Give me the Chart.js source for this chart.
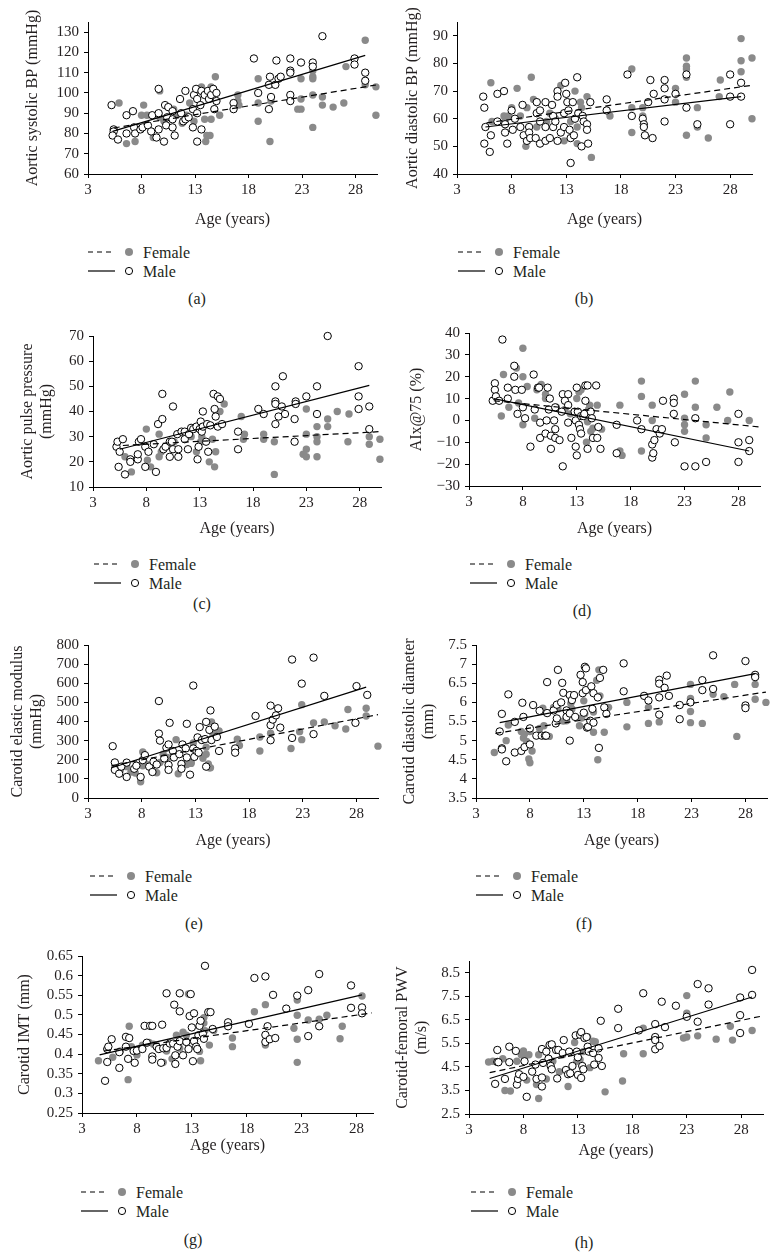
<!DOCTYPE html>
<html>
<head>
<meta charset="utf-8">
<title>Arterial measures by age and sex</title>
<script src="https://cdn.jsdelivr.net/npm/chart.js@4.4.3/dist/chart.umd.js"></script>
<style>
    html, body {
        margin: 0;
        padding: 0;
        background: #fff;
        width: 781px;
        height: 1257px;
        overflow: hidden;
        position: relative;
        font-family: "Liberation Serif", "Times New Roman", serif;
        color: #231f20;
    }
    canvas { position: absolute; }
    .legend {
        position: absolute;
        font-size: 16px;
        line-height: 19px;
        white-space: nowrap;
    }
    .legend div { height: 19px; display: flex; align-items: center; }
    .legend svg { margin-right: 3px; }
    .cap {
        position: absolute;
        font-size: 16px;
        transform: translate(-50%, -50%);
    }
</style>
</head>
<body>
<script>
    // shared x axis
    const ageTicks = [3, 8, 13, 18, 23, 28];

    // (a) aortic systolic BP
    const sbpTicks = [60, 70, 80, 90, 100, 110, 120, 130];
    const sbpFemale = [[5.9,95],[6.6,75],[7.4,76],[8.2,94],[8,89],[8.5,89],[9.1,78],[9.7,101],[9.7,88],[10.1,86],[11,92],[11.3,89],[11.8,85],[12.2,89],[12.5,95],[12.9,86],[13.6,103],[13.9,87],[14,76],[14.1,79],[14.4,79],[14.5,103],[14.5,87],[14.9,108],[15.3,89],[17,99],[17.1,94],[17,96],[18.9,107],[18.9,95],[18.9,86],[20,76],[20.1,96],[22.6,92],[22.9,107],[22.9,97],[22.9,92],[24,111],[24,108],[24,107],[24,99],[24,83],[24.9,98],[24.9,94],[25.9,93],[26.9,95],[27.1,113],[28.9,126],[28.9,104],[29.9,103],[29.9,89]];
    const sbpMale = [[5.2,94],[5.4,82],[5.4,81],[5.3,79],[5.8,77],[6.6,89],[6.6,80],[7.2,91],[7.3,83],[7.4,80],[7.9,82],[8.1,83],[8.6,84],[9,89],[8.9,81],[9.4,78],[9.6,102],[9.6,90],[9.6,82],[10.1,76],[10.2,94],[10.5,93],[10.3,84],[10.4,88],[10.9,87],[10.9,91],[10.9,83],[11.1,79],[11.6,97],[11.7,90],[11.9,86],[12.1,101],[12.1,87],[12.4,88],[12.8,83],[12.8,92],[12.9,99],[13.1,102],[13.2,97],[13.2,90],[13.2,76],[13.5,94],[13.6,101],[13.6,82],[13.9,99],[14.2,101],[14.3,97],[14.5,99],[14.8,92],[14.7,102],[15,100],[15,96],[16.6,95],[16.6,92],[18.5,117],[18.9,100],[19.9,104],[20,108],[19.9,92],[20.1,98],[20.5,104],[20.6,116],[20.8,107],[21,108],[21.9,117],[21.9,111],[21.9,110],[21.9,99],[21.9,96],[22.9,115],[24,115],[24,113],[24.9,128],[27.9,117],[27.9,114],[28.9,110],[28.9,106]];
    const sbpFemaleFit = [[5.4,82.7],[29.9,103.9]];
    const sbpMaleFit = [[5.3,81],[28.9,118.5]];

    // (b) aortic diastolic BP
    const dbpTicks = [40, 50, 60, 70, 80, 90];
    const dbpFemale = [[6.1,73],[6.2,59],[7.3,61],[7.4,59],[7.7,61],[8,64],[8.5,71],[8.8,61],[9.3,50],[9.4,64],[9.8,75],[10,67],[10.3,57],[11.2,59],[11.5,62],[12,60],[12.5,72],[12.8,52],[13.4,59],[13.8,70],[14,57],[14,51],[14.3,66],[14.4,64],[14.9,68],[15.3,46],[17,61],[19,78],[19,64],[19,55],[20,64],[20,61],[23,71],[23,69],[23,66],[24,82],[24,79],[24,78],[24,75],[24,54],[25,64],[25,57],[26,53],[27,68],[27.1,74],[29,89],[29,81],[29,77],[30,82],[30,60]];
    const dbpMale = [[5.4,68],[5.5,64],[5.6,57],[5.5,51],[6,48],[6.1,54],[6.7,69],[6.7,59],[7.3,70],[7.4,58],[7.4,55],[7.6,51],[8,63],[8.1,56],[8.3,60],[8.8,57],[9,65],[9.1,54],[9.4,52],[9.6,57],[9.6,55],[9.7,53],[10.2,53],[10.3,66],[10.3,62],[10.6,63],[10.6,59],[10.6,51],[11.1,66],[11.1,52],[11.1,57],[11.5,53],[11.7,65],[11.8,61],[11.8,57],[12,59],[12.2,70],[12.2,68],[12.2,52],[12.5,55],[12.8,57],[12.8,62],[12.9,73],[13,69],[13.1,66],[13.2,63],[13.3,56],[13.4,44],[13.4,53],[13.6,66],[13.7,54],[13.8,60],[14,75],[14.1,62],[14.4,50],[14.5,61],[14.6,59],[14.9,58],[14.9,56],[15,51],[15.2,66],[16.7,67],[16.7,63],[18.6,76],[19,61],[20,60],[20.1,58],[20.1,57],[20.2,54],[20.7,74],[20.5,66],[20.9,53],[21,69],[22,74],[22,71],[22,67],[22,59],[23,69],[24,76],[24,64],[25,58],[28,76],[28,68],[28,58],[29,73],[29,68]];
    const dbpFemaleFit = [[5.7,58.5],[30,72.1]];
    const dbpMaleFit = [[5.6,57],[29,68]];

    // (c) aortic pulse pressure
    const ppTicks = [10, 20, 30, 40, 50, 60, 70];
    const ppFemale = [[6,22],[6.6,16],[8,33],[8.1,20.6],[8.4,18],[9.2,31],[9.2,22],[9.4,24],[10.6,28],[11.7,30],[12.2,30],[12.7,24],[13.1,28],[13.2,30],[13.9,20],[14.2,29],[14.4,18],[14.5,24],[14.9,40],[15.3,43],[16.9,38],[17.2,31],[17.1,29],[19,31],[19,29],[20,28],[20,15],[23,41],[23,31],[23,25],[22.7,23],[23,22],[24,34],[24,30],[24,28],[24,22],[25,37],[25,34],[25.9,40],[26.9,28],[27,39],[28.9,30],[28.9,27],[29.9,29],[29.9,21]];
    const ppMale = [[5.2,26],[5.3,28],[5.8,29],[5.5,24],[5.4,18],[6,15],[6.5,21],[6.5,20],[7.2,21],[7.2,23],[7.3,28],[7.5,29],[7.9,26],[7.9,18],[8.2,24],[8.7,27],[8.9,16],[9.1,35],[9.5,37],[9.5,47],[9.6,25],[9.8,26],[10.2,28],[10.2,22],[10.4,28],[10.5,42],[10.5,25],[10.9,31],[11,22],[11,25],[11.3,32],[11.6,29],[11.6,32],[11.9,25],[12,31],[12.2,33.5],[12.4,33],[12.7,34],[12.8,21],[12.9,26],[13,33],[13.1,36],[13.2,32],[13.3,40],[13.3,34],[13.6,28],[13.7,35],[13.8,24],[14,34.5],[14.3,47],[14.4,41],[14.5,38],[14.7,34],[14.7,46],[14.9,45],[15.1,35],[16.6,32],[16.6,25],[18.5,41],[19,39],[20.1,35],[20.1,44],[20.1,50],[20.1,43],[20.4,38],[20.7,42],[20.8,54],[21,39],[21.9,28],[21.9,37],[22,44],[22,43],[23,46],[24,50],[24,39],[25,70],[27.9,58],[27.9,46],[27.9,41],[28.9,42],[28.9,33]];
    const ppFemaleFit = [[5.8,26.5],[29.9,32]];
    const ppMaleFit = [[5.5,25],[28.9,50.4]];

    // (d) augmentation index
    const aixTicks = [-30, -20, -10, 0, 10, 20, 30, 40];
    const aixFemale = [[6.2,21],[6,2],[6.7,6],[7.4,24],[7.6,8],[8,33],[8,20],[8,-2],[8.4,15.5],[9.1,1],[9.3,14],[9.7,16.5],[10.1,10],[10.1,12],[11.1,6],[11.9,5],[12.4,3],[13,10],[13.2,13],[13.4,14],[13.9,-10],[14,-0.6],[14.1,5],[14.2,7],[14.3,-5],[14.5,-3.6],[14.9,7],[15.3,-4],[17,7],[17,-14],[17.2,-16],[19,18],[19,11],[19,-14],[20,7],[20,0],[23,12],[23,1],[23,-2],[23,-5],[24,18],[24,6],[25,-2],[25,-8],[26,6],[27,0],[27.2,13],[29,0]];
    const aixMale = [[5.2,9],[5.4,17],[5.4,14],[5.5,11],[5.8,9],[6.1,37],[6.6,10],[6.6,15],[7.2,25],[7.2,20],[7.3,14],[7.5,3],[7.9,14],[8,6],[8.2,1],[8.7,-12],[9,21],[9.1,5],[9.4,15],[9.5,15],[9.6,-1],[9.6,-8],[10.1,-6],[10.2,0],[10.3,15],[10.4,5],[10.5,10],[10.6,-7],[10.6,-13],[10.9,0],[11,6],[11,-4],[11,-8],[11.4,-9],[11.6,4],[11.7,-21],[11.7,12],[11.9,9],[12.2,12],[12.2,7],[12.2,-1],[12.5,-8],[12.8,4],[12.9,-12],[13,-16],[12.9,0],[13,15],[13.1,4],[13.2,-2],[13.3,-4],[13.4,-6],[13.4,2],[13.6,2],[13.7,3],[13.8,16],[13.8,9],[14,16],[14,-13],[14.3,4],[14.4,1],[14.5,-8],[14.9,-8],[14.8,16],[15,-3],[15.2,-13],[16.7,-2],[16.7,-15],[18.6,0],[19,-4],[20,-11],[20,-17],[20.1,-15],[20.2,-9],[20.4,-4],[20.7,-6],[20.9,-4],[21,9],[22,10],[22,8],[22,3],[22.1,-10],[23,-21],[24,1],[24,-21],[25,-19],[28,-10],[28,-19],[28,3],[29,-9],[29,-14]];
    const aixFemaleFit = [[5.3,9],[30,-3]];
    const aixMaleFit = [[5.3,10],[29,-14]];

    // (e) carotid elastic modulus
    const cemTicks = [0, 100, 200, 300, 400, 500, 600, 700, 800];
    const cemFemale = [[5.5,161],[6,144],[6.6,164],[7,136],[7.4,131],[7.5,169],[7.9,85],[8.1,241],[8.1,169],[8.4,178],[8.9,153],[9.4,132],[9.7,186],[10,229],[10.4,212],[10.9,212],[11.2,305],[11.4,127],[11.8,178],[12.2,175],[12.6,186],[12.6,181],[12.8,288],[13.7,208],[14,266],[14,229],[14.2,178],[14.3,158],[14.4,158],[14.5,398],[14.6,339],[15.2,351],[16.9,308],[17.1,275],[19,319],[19,246],[20,339],[21.9,259],[22.7,347],[22.9,488],[22.9,305],[24,393],[25,398],[26,378],[27,361],[27.2,463],[28.9,469],[28.9,429],[30,271]];
    const cemMale = [[5.3,271],[5.5,186],[5.5,147],[5.9,127],[6.1,164],[6.6,185],[6.6,110],[7.3,153],[7.5,169],[7.9,110],[8.1,198],[8.3,224],[8.7,164],[9,136],[9.1,190],[9.4,175],[9.6,507],[9.6,337],[9.7,300],[10.1,207],[10.3,263],[10.5,280],[10.5,173],[10.5,147],[10.6,393],[10.9,246],[11,212],[11.5,229],[11.7,178],[11.7,153],[11.8,280],[12.1,259],[12.2,212],[12.2,388],[12.5,122],[12.8,259],[12.8,588],[12.9,215],[13.1,246],[13.2,317],[13.3,237],[13.4,371],[13.6,303],[13.9,308],[14,164],[14,398],[14.3,356],[14.4,458],[14.5,303],[14.8,373],[15,319],[15.2,246],[16.7,259],[16.7,237],[18.6,429],[20,483],[20,381],[20,302],[20.2,410],[20.5,432],[20.7,469],[20.9,368],[22,724],[22,314],[22.9,598],[24,334],[24,734],[25,534],[28,585],[27.9,393],[29,539]];
    const cemFemaleFit = [[5.2,169],[30,436]];
    const cemMaleFit = [[5.2,158],[28.9,580]];

    // (f) carotid diastolic diameter
    const cddTicks = [3.5, 4, 4.5, 5, 5.5, 6, 6.5, 7, 7.5];
    const cddFemale = [[4.7,4.69],[5.8,5],[6,5.41],[7.2,5.24],[7.4,5.07],[7.5,5.17],[7.7,4.98],[7.9,4.52],[8,4.42],[8,5.24],[8.2,4.73],[8.9,5.32],[9.2,5.85],[9.3,5.39],[9.8,5.11],[10.2,5.87],[10.6,5.83],[11.1,5.51],[11.4,5.52],[11.8,5.97],[11.9,5.83],[12.6,5.39],[12.8,5.59],[13,6.04],[13.1,5.7],[13.9,5.75],[13.9,5.22],[14.2,6.58],[14.3,4.5],[14.4,6.85],[14.5,6.17],[14.9,5.22],[15.3,5.87],[17,5.36],[17,6],[19,5.45],[19,5.87],[20,5.49],[22.9,6.47],[22.9,6.1],[22.9,5.76],[22.9,5.47],[24,5.45],[25,6.21],[26,6.15],[27,6.47],[27.2,5.11],[28.9,6.47],[28.9,6.08],[29.9,6]];
    const cddMale = [[5.2,5.24],[5.4,5.7],[5.4,4.8],[5.4,4.77],[5.8,4.46],[6,6.21],[6.6,5.49],[6.6,4.69],[7.2,4.73],[7.3,5.99],[7.4,5.62],[7.5,4.83],[8,4.9],[8,5.32],[8.3,5.93],[8.6,5.13],[8.9,5.78],[9.1,5.13],[9.4,5.13],[9.5,5.13],[9.6,6.53],[9.6,5.72],[10.2,5.79],[10.4,5.45],[10.5,5.58],[10.5,5.94],[10.6,6.85],[10.9,6],[11,6.51],[11.1,6.25],[11.4,5.79],[11.4,5.62],[11.7,5],[11.7,5.71],[11.7,6.19],[11.9,6.06],[12.1,6.19],[12.2,5.62],[12.7,6.72],[12.9,6.53],[12.9,6.24],[13,5.73],[13.1,6.93],[13.2,6.89],[13.2,6.32],[13.3,5.34],[13.4,5.36],[13.6,5.52],[13.7,6.42],[13.8,5.83],[13.9,5.47],[13.9,6.24],[14.3,6.13],[14.4,4.81],[14.5,6.64],[14.8,6.85],[14.9,5.87],[15.1,5.7],[16.7,7.02],[16.7,6.29],[18.6,6.17],[19,6.05],[20,6.59],[20,6.49],[20,6.13],[20,5.68],[20.5,6.38],[20.7,6.7],[20.9,6.17],[21.9,5.93],[21.9,5.56],[22.9,6],[24,6.58],[24,6.32],[25,7.23],[25,6.35],[28,7.08],[28,5.92],[28,5.85],[28.9,6.72],[28.9,6.66]];
    const cddFemaleFit = [[4.8,5.19],[29.9,6.27]];
    const cddMaleFit = [[5.2,5.47],[28.9,6.75]];

    // (g) carotid IMT
    const imtTicks = [0.25, 0.3, 0.35, 0.4, 0.45, 0.5, 0.55, 0.6, 0.65];
    const imtFemale = [[4.5,0.383],[5.8,0.392],[6.5,0.408],[7.2,0.335],[7.3,0.471],[7.5,0.419],[8,0.398],[8.5,0.423],[9.1,0.43],[9.5,0.425],[10.4,0.379],[10.7,0.408],[11.2,0.388],[11.6,0.448],[11.9,0.415],[12.2,0.456],[12.5,0.448],[12.7,0.553],[13.2,0.435],[13.7,0.407],[13.8,0.383],[14.1,0.493],[14.1,0.479],[14.2,0.46],[14.6,0.423],[15,0.46],[16.7,0.441],[16.7,0.419],[18.7,0.508],[19.7,0.526],[19.7,0.423],[22.3,0.466],[22.6,0.538],[22.6,0.499],[22.6,0.438],[22.6,0.379],[23.6,0.487],[24.6,0.489],[25.3,0.499],[26.5,0.439],[26.7,0.471],[28.5,0.548]];
    const imtMale = [[5.1,0.332],[5.3,0.38],[5.3,0.413],[5.4,0.419],[5.7,0.438],[6.4,0.405],[6.4,0.365],[7,0.444],[7,0.419],[7.2,0.388],[7.3,0.441],[7.7,0.408],[7.8,0.378],[8,0.409],[8.5,0.413],[8.9,0.429],[8.7,0.472],[9.2,0.472],[9.4,0.472],[9.4,0.394],[9.4,0.386],[9.8,0.419],[10,0.413],[10.2,0.378],[10.3,0.475],[10.4,0.415],[10.7,0.555],[10.7,0.416],[11,0.427],[11.3,0.427],[11.4,0.526],[11.5,0.397],[11.5,0.375],[11.7,0.419],[11.9,0.555],[11.9,0.509],[11.9,0.433],[12.2,0.397],[12.5,0.431],[12.7,0.413],[12.8,0.497],[12.9,0.553],[13,0.468],[13.1,0.382],[13.2,0.504],[13.2,0.433],[13.4,0.419],[13.5,0.413],[13.6,0.448],[13.7,0.472],[13.8,0.485],[14,0.452],[14.1,0.439],[14.2,0.625],[14.5,0.507],[14.7,0.507],[14.9,0.464],[16.3,0.481],[16.3,0.471],[18.2,0.477],[18.7,0.594],[19.7,0.598],[19.7,0.449],[19.7,0.431],[19.9,0.471],[20.1,0.438],[20.4,0.551],[20.6,0.441],[21.6,0.516],[22.6,0.549],[23.6,0.563],[23.6,0.446],[24.6,0.604],[24.6,0.471],[27.5,0.575],[27.5,0.518],[28.5,0.519],[28.5,0.504]];
    const imtFemaleFit = [[5,0.408],[29.4,0.505]];
    const imtMaleFit = [[4.6,0.398],[28.5,0.551]];

    // (h) carotid-femoral PWV
    const pwvTicks = [2.5, 3.5, 4.5, 5.5, 6.5, 7.5, 8.5];
    const pwvFemale = [[4.8,4.71],[5.2,4.74],[6.1,4.85],[6.3,3.5],[6.8,3.48],[7.4,4.74],[7.8,5.02],[8,5.18],[8.1,4.91],[8.3,3.94],[8.5,5.02],[9.2,3.75],[9.4,3.16],[9.4,5.02],[10.1,3.99],[10.7,4.74],[11.3,4.3],[11.6,5.02],[12.1,3.67],[12.7,5.54],[12.9,4.74],[13.2,4.81],[13.5,5.15],[13.9,5.77],[14.1,4.47],[14.4,5.59],[14.6,5.57],[15.5,3.44],[17.2,5.06],[17.1,3.9],[19,5.06],[19,6.15],[20.1,5.68],[22.7,5.73],[23,7.53],[23,6.78],[23,5.77],[24,5.82],[25.7,5.68],[27,6.23],[27.2,5.64],[29,6.05]];
    const pwvMale = [[5.4,3.78],[5.6,5.22],[5.6,4.71],[5.7,4.7],[6.3,3.99],[6.7,5.36],[6.7,4.7],[7.3,5.18],[7.4,3.75],[7.5,3.99],[7.6,4.19],[8,4.08],[8.1,4.74],[8.3,3.23],[8.8,4.3],[9.1,4.6],[9.2,3.99],[9.7,5.26],[9.7,4.05],[9.7,3.67],[9.8,4.67],[10.1,5.15],[10.3,4.85],[10.4,5.43],[10.5,4.54],[10.6,4.4],[10.6,5.46],[11,5.22],[11.1,4.01],[11.2,5.22],[11.6,5.09],[11.7,5.64],[11.9,4.37],[12.1,4.19],[12.2,5.15],[12.3,4.23],[12.5,4.54],[12.8,5.84],[12.9,5.15],[13,4.91],[13,4.16],[13.2,5.87],[13.3,4.03],[13.3,5.98],[13.4,4.54],[13.5,4.4],[13.6,5.73],[13.8,5.77],[13.9,5.36],[14,5.15],[14.4,5.09],[14.5,4.6],[14.9,5.29],[14.9,4.88],[15.2,4.54],[15.1,6.46],[16.7,6.97],[16.7,6.15],[18.6,6.05],[19,7.63],[20.1,6.32],[20.1,5.77],[20.1,5.64],[20.1,5.25],[20.5,5.39],[20.7,7.27],[21,6.19],[22,7.1],[23,6.63],[24,8.02],[24,6.42],[25,7.84],[25,7.15],[27.9,7.45],[27.9,6.7],[27.9,5.94],[29,8.62],[29,7.56]];
    const pwvFemaleFit = [[4.9,4.26],[30,6.67]];
    const pwvMaleFit = [[4.9,4.01],[29,7.47]];

    const FONT = '"Liberation Serif", "Times New Roman", serif';
    const INK = '#231f20';
    const GREY = '#8a8a8a';

    // box: plot area edges in page pixels, ytx = centre of first y-title line, xty = centre of x title
    const panels = [
        { tag: '(a)', yTitle: 'Aortic systolic BP (mmHg)', female: sbpFemale, male: sbpMale, femaleFit: sbpFemaleFit, maleFit: sbpMaleFit,
          yTicks: sbpTicks, yMin: 60, yMax: 135, xMax: 30, box: { l: 88, r: 377, t: 18, b: 174, ytx: 33, xty: 219 }, legend: [88, 252], cap: [197, 299] },
        { tag: '(b)', yTitle: 'Aortic diastolic BP (mmHg)', female: dbpFemale, male: dbpMale, femaleFit: dbpFemaleFit, maleFit: dbpMaleFit,
          yTicks: dbpTicks, yMin: 40, yMax: 95, xMax: 30, box: { l: 457, r: 752, t: 18, b: 174, ytx: 413, xty: 219 }, legend: [458, 252], cap: [584, 299] },
        { tag: '(c)', yTitle: ['Aortic pulse pressure', '(mmHg)'], female: ppFemale, male: ppMale, femaleFit: ppFemaleFit, maleFit: ppMaleFit,
          yTicks: ppTicks, yMin: 10, yMax: 70, xMax: 30, box: { l: 93, r: 381, t: 332, b: 487, ytx: 28, xty: 528 }, legend: [94, 564], cap: [202, 604] },
        { tag: '(d)', yTitle: 'AIx@75 (%)', female: aixFemale, male: aixMale, femaleFit: aixFemaleFit, maleFit: aixMaleFit,
          yTicks: aixTicks, yMin: -30, yMax: 40, xMax: 30, box: { l: 469, r: 760, t: 329, b: 486, ytx: 417, xty: 528 }, legend: [470, 564], cap: [582, 611] },
        { tag: '(e)', yTitle: ['Carotid elastic modulus', '(mmHg)'], female: cemFemale, male: cemMale, femaleFit: cemFemaleFit, maleFit: cemMaleFit,
          yTicks: cemTicks, yMin: 0, yMax: 800, xMax: 30, box: { l: 88, r: 378, t: 641, b: 798, ytx: 18, xty: 840 }, legend: [90, 876], cap: [194, 924] },
        { tag: '(f)', yTitle: ['Carotid diastolic diameter', '(mm)'], female: cddFemale, male: cddMale, femaleFit: cddFemaleFit, maleFit: cddMaleFit,
          yTicks: cddTicks, yMin: 3.5, yMax: 7.5, xMax: 30, box: { l: 476, r: 767, t: 641, b: 798, ytx: 410, xty: 840 }, legend: [476, 876], cap: [584, 924] },
        { tag: '(g)', yTitle: 'Carotid IMT (mm)', female: imtFemale, male: imtMale, femaleFit: imtFemaleFit, maleFit: imtMaleFit,
          yTicks: imtTicks, yMin: 0.25, yMax: 0.65, xMax: 29.5, box: { l: 82, r: 373, t: 952, b: 1113, ytx: 25, xty: 1145 }, legend: [81, 1192], cap: [193, 1240] },
        { tag: '(h)', yTitle: ['Carotid-femoral PWV', '(m/s)'], female: pwvFemale, male: pwvMale, femaleFit: pwvFemaleFit, maleFit: pwvMaleFit,
          yTicks: pwvTicks, yMin: 2.5, yMax: 9, xMax: 30, box: { l: 469, r: 763, t: 957, b: 1114, ytx: 403, xty: 1150 }, legend: [471, 1192], cap: [584, 1243] }
    ];

    function axisStyle() {
        return {
            border: { display: true, color: '#000', width: 1 },
            grid: { display: true, drawOnChartArea: false, drawTicks: true, tickLength: 4, color: '#000', lineWidth: 1 },
        };
    }

    function drawPanel(p) {
        const lh = 16 * 1.2;
        const padTop = 10, padRight = 6;
        const left = Math.round(p.box.ytx - lh / 2);
        const top = p.box.t - padTop;
        const width = p.box.r + padRight - left;
        const height = Math.round(p.box.xty + lh / 2 - top);
        const yWidth = p.box.l - left;
        const xHeight = height - padTop - (p.box.b - p.box.t);

        const canvas = document.createElement('canvas');
        canvas.width = width;
        canvas.height = height;
        canvas.style.left = left + 'px';
        canvas.style.top = top + 'px';
        canvas.style.width = width + 'px';
        canvas.style.height = height + 'px';
        document.body.appendChild(canvas);

        new Chart(canvas, {
            type: 'scatter',
            data: {
                datasets: [
                    { label: 'Male trend', data: p.maleFit, showLine: true, borderColor: '#000', borderWidth: 1.2, pointRadius: 0, order: 0, clip: false },
                    { label: 'Female trend', data: p.femaleFit, showLine: true, borderColor: '#000', borderWidth: 1.2, borderDash: [6, 4], pointRadius: 0, order: 0, clip: false },
                    { label: 'Male', data: p.male, pointRadius: 3.7, backgroundColor: '#fff', borderColor: '#000', borderWidth: 1, order: 1, clip: false },
                    { label: 'Female', data: p.female, pointRadius: 3.7, backgroundColor: GREY, borderColor: GREY, borderWidth: 0, order: 2, clip: false }
                ]
            },
            options: {
                responsive: false,
                animation: false,
                devicePixelRatio: 1,
                events: [],
                layout: { autoPadding: false, padding: { top: padTop, right: padRight, left: 0, bottom: 0 } },
                plugins: { legend: { display: false }, tooltip: { enabled: false } },
                scales: {
                    x: {
                        type: 'linear', position: 'bottom', min: 3, max: p.xMax,
                        ...axisStyle(),
                        afterBuildTicks: s => { s.ticks = ageTicks.map(v => ({ value: v })); },
                        afterFit: s => { s.height = xHeight; },
                        ticks: { color: INK, font: { family: FONT, size: 15 }, padding: 3, maxRotation: 0, autoSkip: false, callback: v => String(v) },
                        title: { display: true, text: 'Age (years)', color: INK, font: { family: FONT, size: 16 }, padding: 0 }
                    },
                    y: {
                        type: 'linear', position: 'left', min: p.yMin, max: p.yMax,
                        ...axisStyle(),
                        afterBuildTicks: s => { s.ticks = p.yTicks.map(v => ({ value: v })); },
                        afterFit: s => { s.width = yWidth; },
                        ticks: { color: INK, font: { family: FONT, size: 15 }, padding: 5, autoSkip: false, callback: v => String(v).replace('-', '\u2212') },
                        title: { display: true, text: p.yTitle, color: INK, font: { family: FONT, size: 16 }, padding: 0 }
                    }
                }
            }
        });

        // legend: dashed line + filled dot = Female, solid line + open circle = Male
        const leg = document.createElement('div');
        leg.className = 'legend';
        leg.style.left = p.legend[0] + 'px';
        leg.style.top = (p.legend[1] - 9.5) + 'px';
        leg.innerHTML =
            '<div><svg width="52" height="12"><line x1="0" y1="6" x2="26" y2="6" stroke="#000" stroke-width="1.2" stroke-dasharray="5,4"/>' +
            '<circle cx="41" cy="6" r="4" fill="' + GREY + '"/></svg>Female</div>' +
            '<div><svg width="52" height="12"><line x1="0" y1="6" x2="27" y2="6" stroke="#000" stroke-width="1.2"/>' +
            '<circle cx="41" cy="6" r="3.6" fill="#fff" stroke="#000" stroke-width="1"/></svg>Male</div>';
        document.body.appendChild(leg);

        const cap = document.createElement('div');
        cap.className = 'cap';
        cap.style.left = p.cap[0] + 'px';
        cap.style.top = p.cap[1] + 'px';
        cap.textContent = p.tag;
        document.body.appendChild(cap);
    }

    panels.forEach(drawPanel);
</script>
</body>
</html>
